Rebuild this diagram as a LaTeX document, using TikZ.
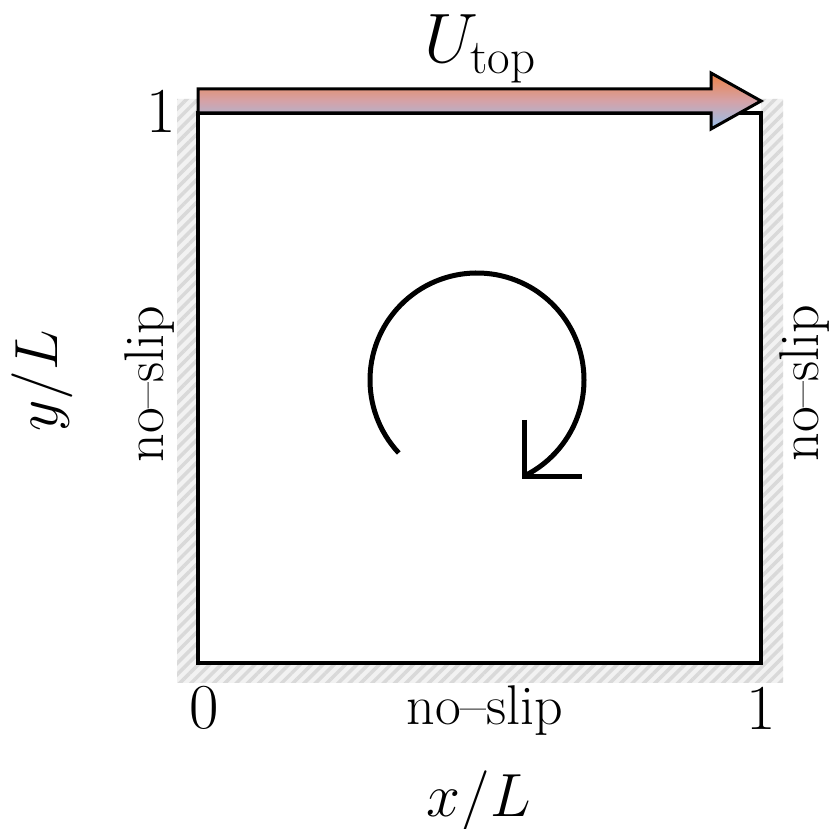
\RequirePackage{fix-cm}
\documentclass[tikz,border=0pt]{standalone}
\usetikzlibrary{patterns.meta}
\definecolor{arrtop}{RGB}{238,130,70}
\definecolor{arrmid}{RGB}{212,162,168}
\definecolor{arrbot}{RGB}{150,192,236}
\tikzset{
  hatchwall/.style={fill=black!5, postaction={pattern={Lines[angle=45,distance=8pt,line width=3.5pt]}, pattern color=black!15}},
  boxline/.style={line width=4pt},
  velarrow/.style={line width=3pt, line join=miter, top color=arrtop, bottom color=arrbot, middle color=arrmid, draw=black},
  swirl/.style={line width=5pt},
  ticklab/.style={font=\fontsize{64}{70}\selectfont, inner sep=0pt},
  axlab/.style={font=\fontsize{61}{66}\selectfont, inner sep=0pt},
  lidlab/.style={font=\fontsize{70}{76}\selectfont, inner sep=0pt},
  wallab/.style={font=\fontsize{56}{62}\selectfont, inner sep=0pt},
}
\begin{document}
\begin{tikzpicture}[x=1pt,y=1pt]
\useasboundingbox (0,0) rectangle (833,829);
% hatched walls
\path[hatchwall] (177,730) -- (177,146) -- (783,146) -- (783,730) -- (761,730) -- (761,166) -- (198,166) -- (198,730) -- cycle;
% cavity
\draw[boxline] (198,166) rectangle (761,716);
% lid velocity arrow
\draw[velarrow] (198,716) -- (198,740) -- (711,740) -- (711,756) -- (761,728) -- (711,700) -- (711,716) -- cycle;
% recirculation
\draw[swirl] (477,449) ++(223:107) arc[start angle=223, end angle=-63, radius=107];
\coordinate (tip) at (524,352);
\draw[swirl, line join=miter] (524,409) -- (tip) -- (582,352);
% labels
\node[lidlab, anchor=base] (utop) at (480,766) {$U_{\mathrm{top}}$};
\node[ticklab] (y1) at (161,718) {1};
\node[ticklab] (x0) at (204,121) {0};
\node[ticklab] (x1) at (761,121) {1};
\node[wallab, anchor=base] (nsb) at (485,104) {no–slip};
\node[wallab, anchor=base, rotate=90] (nsl) at (163,445) {no–slip};
\node[wallab, anchor=base, rotate=90] (nsr) at (818,446) {no–slip};
\node[axlab, anchor=base] (xl) at (479,12) {$x/L$};
\node[axlab, anchor=base, rotate=90] (yl) at (57,448) {$y/L$};
\end{tikzpicture}
\end{document}
